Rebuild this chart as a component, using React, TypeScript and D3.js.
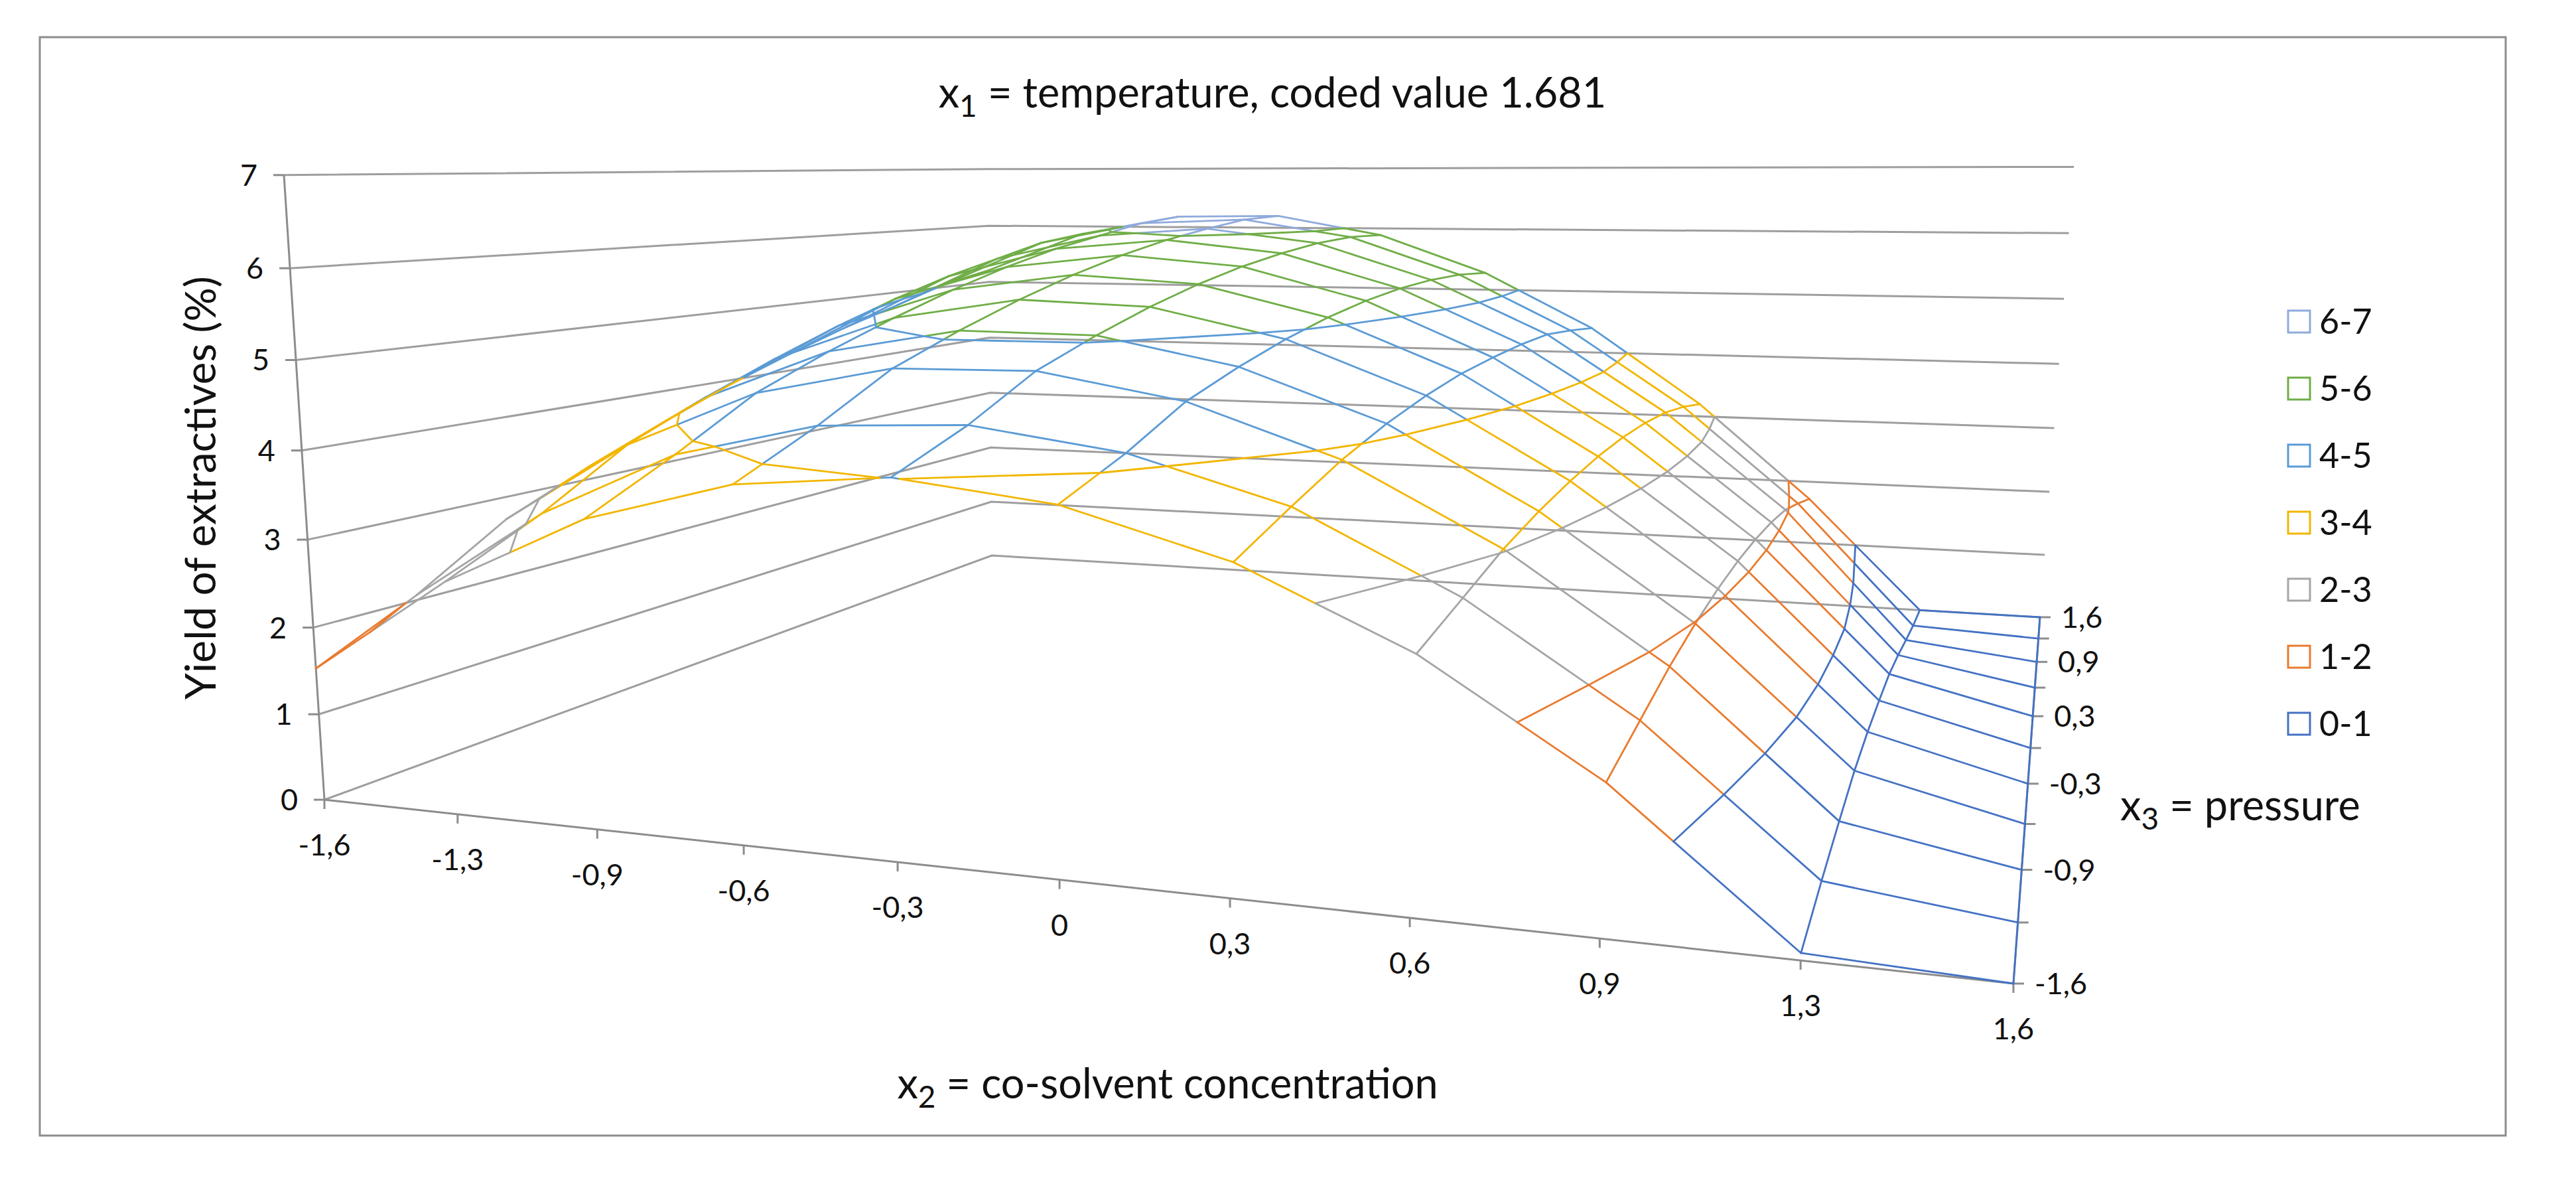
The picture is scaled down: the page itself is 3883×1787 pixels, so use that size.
import * as d3 from "d3";
import { useEffect, useRef } from "react";

const W = 3883;
const H = 1787;

// x2 categories along the front axis, x3 series from front to back
const x2Labels = ["-1,6", "-1,3", "-0,9", "-0,6", "-0,3", "0", "0,3", "0,6", "0,9", "1,3", "1,6"];
const x3Labels = ["-1,6", "-1,3", "-0,9", "-0,6", "-0,3", "0", "0,3", "0,6", "0,9", "1,3", "1,6"];
const x3Shown = ["-1,6", "-0,9", "-0,3", "0,3", "0,9", "1,6"];
const yTicks = [0, 1, 2, 3, 4, 5, 6, 7];

// yield of extractives (%), one array per x3 series, one value per x2 category
const yieldX3m16 = [1.53, 2.63, 3.41, 3.86, 4.01, 3.82, 3.35, 2.58, 1.50, 0.07, 0];
const yieldX3m13 = [2.06, 3.13, 3.89, 4.28, 4.35, 4.12, 3.64, 2.80, 1.68, 0.22, 0];
const yieldX3m09 = [2.72, 3.73, 4.42, 4.76, 4.78, 4.49, 3.91, 3.02, 1.86, 0.34, 0];
const yieldX3m06 = [3.16, 4.14, 4.78, 5.08, 5.06, 4.73, 4.12, 3.18, 1.99, 0.44, 0];
const yieldX3m03 = [3.56, 4.50, 5.09, 5.36, 5.30, 4.93, 4.28, 3.30, 2.08, 0.47, 0];
const yieldX3p00 = [3.93, 4.83, 5.37, 5.60, 5.50, 5.09, 4.40, 3.39, 2.13, 0.46, 0];
const yieldX3p03 = [4.25, 5.12, 5.61, 5.80, 5.66, 5.21, 4.47, 3.44, 2.14, 0.43, 0];
const yieldX3p06 = [4.54, 5.37, 5.81, 5.96, 5.78, 5.29, 4.52, 3.45, 2.11, 0.33, 0];
const yieldX3p09 = [4.79, 5.57, 5.96, 6.08, 5.87, 5.33, 4.54, 3.42, 2.04, 0.20, 0];
const yieldX3p13 = [5.05, 5.77, 6.11, 6.18, 5.91, 5.33, 4.48, 3.33, 1.89, 0.08, 0];
const yieldX3p16 = [5.21, 5.87, 6.18, 6.20, 5.89, 5.28, 4.40, 3.20, 1.72, 0, 0];

const surface = [
  yieldX3m16, yieldX3m13, yieldX3m09, yieldX3m06, yieldX3m03, yieldX3p00,
  yieldX3p03, yieldX3p06, yieldX3p09, yieldX3p13, yieldX3p16,
];

const bandLabels = ["0-1", "1-2", "2-3", "3-4", "4-5", "5-6", "6-7"];
const bandColors = ["#4472C4", "#E97B2F", "#A5A5A5", "#F2B600", "#5B9BD5", "#70AD47", "#8FAADC"];

// perspective camera of the 3-D view: floor (u, v) in [0,1], height t in [0,1]
const cam = {
  x: [1849.9, 1928.7, -81.9, 489],
  y: [-62.9, 148.6, -954.1, 1205],
  w: [-0.22935, 0.6172, -0.0489, 1],
};

function project(u: number, v: number, t: number): [number, number] {
  const w = cam.w[0] * u + cam.w[1] * v + cam.w[2] * t + cam.w[3];
  const x = cam.x[0] * u + cam.x[1] * v + cam.x[2] * t + cam.x[3];
  const y = cam.y[0] * u + cam.y[1] * v + cam.y[2] * t + cam.y[3];
  return [x / w, y / w];
}

const FONT = "Lato, 'Open Sans', sans-serif";

interface Seg {
  a: [number, number];
  b: [number, number];
  color: string;
}

export default function App() {
  const ref = useRef<SVGSVGElement | null>(null);

  useEffect(() => {
    if (!ref.current) return;
    const svg = d3.select(ref.current);
    svg.selectAll("*").remove();

    const uScale = d3.scaleLinear().domain([0, x2Labels.length - 1]).range([0, 1]);
    const vScale = d3.scaleLinear().domain([0, x3Labels.length - 1]).range([0, 1]);
    const tScale = d3.scaleLinear().domain([0, 7]).range([0, 1]);
    const band = (z: number) => Math.max(0, Math.min(6, Math.floor(z)));
    const pt = (i: number, j: number, z: number) => project(uScale(i), vScale(j), tScale(z));

    // chart border
    svg.append("rect")
      .attr("x", 60).attr("y", 56)
      .attr("width", 3717).attr("height", 1655)
      .attr("fill", "white")
      .attr("stroke", "#8C8C8C")
      .attr("stroke-width", 3);

    // wall gridlines: left wall (x2 = -1.6) and back wall (x3 = 1.6)
    const line = d3.line<[number, number]>();
    const walls = svg.append("g");
    yTicks.forEach(h => {
      walls.append("path")
        .attr("d", line([pt(0, 0, h), pt(0, 10, h), pt(10, 10, h)]))
        .attr("fill", "none")
        .attr("stroke", "#9E9E9E")
        .attr("stroke-width", 3);
    });

    // axes
    const axes = svg.append("g").attr("stroke", "#8C8C8C").attr("stroke-width", 3);
    const a0 = pt(0, 0, 0), a7 = pt(0, 0, 7);
    const b0 = pt(10, 0, 0), c0 = pt(10, 10, 0);
    axes.append("line").attr("x1", a0[0]).attr("y1", a0[1]).attr("x2", a7[0]).attr("y2", a7[1]);
    axes.append("line").attr("x1", a0[0]).attr("y1", a0[1]).attr("x2", b0[0]).attr("y2", b0[1]);
    axes.append("line").attr("x1", b0[0]).attr("y1", b0[1]).attr("x2", c0[0]).attr("y2", c0[1]);

    const labels = svg.append("g")
      .attr("font-family", FONT)
      .attr("fill", "#111");

    yTicks.forEach(h => {
      const p = pt(0, 0, h);
      axes.append("line").attr("x1", p[0] - 16).attr("y1", p[1]).attr("x2", p[0]).attr("y2", p[1]);
      labels.append("text")
        .attr("x", p[0] - 40).attr("y", p[1] + 16)
        .attr("text-anchor", "end")
        .attr("font-size", 45)
        .text(h);
    });

    x2Labels.forEach((lab, i) => {
      const p = pt(i, 0, 0);
      axes.append("line").attr("x1", p[0]).attr("y1", p[1]).attr("x2", p[0]).attr("y2", p[1] + 14);
      labels.append("text")
        .attr("x", p[0]).attr("y", p[1] + 84)
        .attr("text-anchor", "middle")
        .attr("font-size", 45)
        .text(lab);
    });

    x3Labels.forEach((lab, j) => {
      const p = pt(10, j, 0);
      axes.append("line").attr("x1", p[0]).attr("y1", p[1]).attr("x2", p[0] + 16).attr("y2", p[1]);
      if (x3Shown.includes(lab)) {
        labels.append("text")
          .attr("x", p[0] + 32).attr("y", p[1] + 16)
          .attr("font-size", 45)
          .text(lab);
      }
    });

    // wireframe: rows (constant x3) and columns (constant x2), split at band edges
    const segs: Seg[] = [];
    const addSeg = (p: [number, number, number], q: [number, number, number]) => {
      const ts = [0, 1];
      const lo = Math.min(p[2], q[2]);
      const hi = Math.max(p[2], q[2]);
      for (let L = 1; L < 7; L++) {
        if (L > lo && L < hi) ts.push((L - p[2]) / (q[2] - p[2]));
      }
      ts.sort((m, n) => m - n);
      for (let k = 0; k < ts.length - 1; k++) {
        const at = (t: number): [number, number, number] => [
          p[0] + (q[0] - p[0]) * t, p[1] + (q[1] - p[1]) * t, p[2] + (q[2] - p[2]) * t,
        ];
        const s = at(ts[k]), e = at(ts[k + 1]);
        const mid = (s[2] + e[2]) / 2;
        segs.push({ a: pt(s[0], s[1], s[2]), b: pt(e[0], e[1], e[2]), color: bandColors[band(mid)] });
      }
    };

    const nI = x2Labels.length, nJ = x3Labels.length;
    for (let j = 0; j < nJ; j++) {
      for (let i = 0; i < nI - 1; i++) {
        addSeg([i, j, surface[j][i]], [i + 1, j, surface[j][i + 1]]);
      }
    }
    for (let i = 0; i < nI; i++) {
      for (let j = 0; j < nJ - 1; j++) {
        addSeg([i, j, surface[j][i]], [i, j + 1, surface[j + 1][i]]);
      }
    }

    // band boundaries inside each cell (marching squares), coloured by the band below
    const contour: Seg[] = [];
    for (let j = 0; j < nJ - 1; j++) {
      for (let i = 0; i < nI - 1; i++) {
        const c: [number, number, number][] = [
          [i, j, surface[j][i]],
          [i + 1, j, surface[j][i + 1]],
          [i + 1, j + 1, surface[j + 1][i + 1]],
          [i, j + 1, surface[j + 1][i]],
        ];
        for (let L = 1; L < 7; L++) {
          const hits: [number, number][] = [];
          for (let k = 0; k < 4; k++) {
            const p = c[k], q = c[(k + 1) % 4];
            if ((p[2] >= L) !== (q[2] >= L)) {
              const t = (L - p[2]) / (q[2] - p[2]);
              hits.push(pt(p[0] + (q[0] - p[0]) * t, p[1] + (q[1] - p[1]) * t, L));
            }
          }
          const color = bandColors[L - 1];
          if (hits.length === 2) {
            contour.push({ a: hits[0], b: hits[1], color });
          } else if (hits.length === 4) {
            const centre = (c[0][2] + c[1][2] + c[2][2] + c[3][2]) / 4;
            if ((c[0][2] >= L) === (centre >= L)) {
              contour.push({ a: hits[0], b: hits[1], color }, { a: hits[2], b: hits[3], color });
            } else {
              contour.push({ a: hits[3], b: hits[0], color }, { a: hits[1], b: hits[2], color });
            }
          }
        }
      }
    }

    svg.append("g")
      .selectAll("line")
      .data([...segs, ...contour])
      .join("line")
      .attr("x1", d => d.a[0]).attr("y1", d => d.a[1])
      .attr("x2", d => d.b[0]).attr("y2", d => d.b[1])
      .attr("stroke", d => d.color)
      .attr("stroke-width", 2.8)
      .attr("stroke-linecap", "round");

    // titles
    const title = labels.append("text")
      .attr("x", 1918).attr("y", 162)
      .attr("text-anchor", "middle")
      .attr("font-size", 63);
    title.append("tspan").text("x");
    title.append("tspan").attr("dy", 14).attr("font-size", 46).text("1");
    title.append("tspan").attr("dy", -14).text(" = temperature, coded value 1.681");

    const xTitle = labels.append("text")
      .attr("x", 1760).attr("y", 1655)
      .attr("text-anchor", "middle")
      .attr("font-size", 63);
    xTitle.append("tspan").text("x");
    xTitle.append("tspan").attr("dy", 14).attr("font-size", 46).text("2");
    xTitle.append("tspan").attr("dy", -14).text(" = co-solvent concentration");

    const zTitle = labels.append("text")
      .attr("x", 3196).attr("y", 1236)
      .attr("font-size", 63);
    zTitle.append("tspan").text("x");
    zTitle.append("tspan").attr("dy", 14).attr("font-size", 46).text("3");
    zTitle.append("tspan").attr("dy", -14).text(" = pressure");

    labels.append("text")
      .attr("transform", "translate(325,735) rotate(-90)")
      .attr("text-anchor", "middle")
      .attr("font-size", 64)
      .text("Yield of extractives (%)");

    // legend, highest band first
    const legend = svg.append("g").attr("font-family", FONT);
    const order = d3.range(bandLabels.length).reverse();
    order.forEach((b, k) => {
      const top = 468 + k * 101;
      legend.append("rect")
        .attr("x", 3449).attr("y", top)
        .attr("width", 33).attr("height", 33)
        .attr("fill", "white")
        .attr("stroke", bandColors[b])
        .attr("stroke-width", 3);
      legend.append("text")
        .attr("x", 3496).attr("y", top + 35)
        .attr("font-size", 52)
        .attr("fill", "#111")
        .text(bandLabels[b]);
    });
  }, []);

  return (
    <svg
      ref={ref}
      width={W}
      height={H}
      style={{ position: "absolute", left: 0, top: 0, background: "white" }}
    />
  );
}
